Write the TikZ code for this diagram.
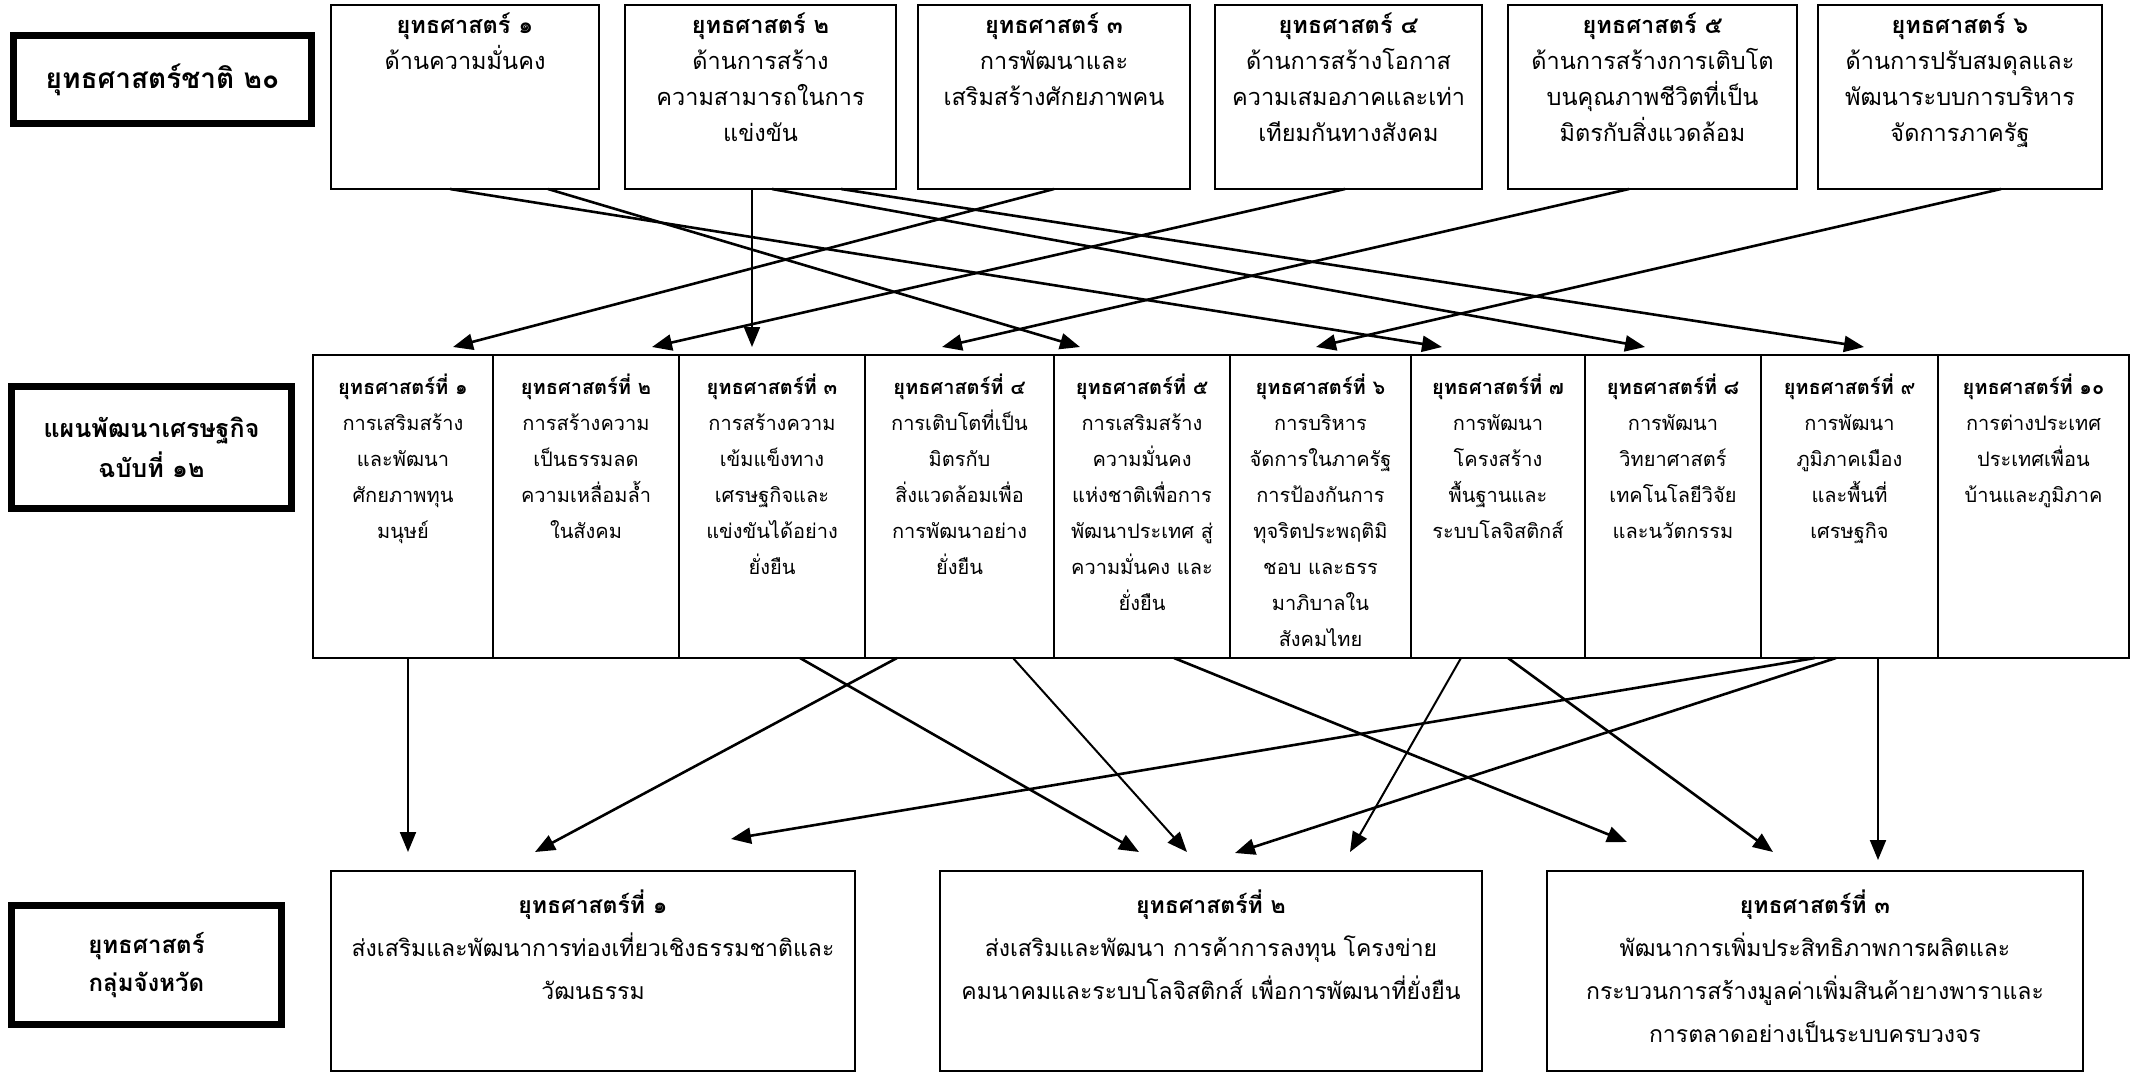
\documentclass[tikz,border=0pt]{standalone}
\usepackage{fontspec}
\usetikzlibrary{arrows.meta}
\newfontfamily\thai[Script=Thai]{Loma}
\newcommand{\ThTop}{\thai\fontsize{23.5}{36}\selectfont}
\newcommand{\ThMid}{\thai\fontsize{20}{36}\selectfont}
\newcommand{\ThBot}{\thai\fontsize{23}{43}\selectfont}
\newcommand{\ThLbl}{\thai\bfseries\fontsize{25}{40}\selectfont}
\begin{document}
\begin{tikzpicture}[x=1pt,y=-1pt,
  box/.style={draw=black, line width=2pt, inner sep=0pt, outer sep=0pt},
  lbl/.style={draw=black, line width=7pt, inner sep=0pt, outer sep=0pt, align=center, font=\ThLbl},
  ttxt/.style={font=\ThTop, align=center, inner sep=0pt, anchor=north},
  mtxt/.style={font=\ThMid, align=center, inner sep=0pt, anchor=north},
  btxt/.style={font=\ThBot, align=center, inner sep=0pt, anchor=north},
  arr/.style={line width=2.6pt, -{Triangle[length=20pt,width=16pt]}},
]
\useasboundingbox[fill=white] (0,0) rectangle (2136,1074);

% left labels
\node[lbl, minimum width=298pt, minimum height=88pt, font=\thai\bfseries\fontsize{28}{40}\selectfont] (la) at (162.5,79.5) {ยุทธศาสตร์ชาติ ๒๐};
\node[lbl, minimum width=280pt, minimum height=122pt] (lb) at (151.5,447.5) {แผนพัฒนาเศรษฐกิจ\\ฉบับที่ ๑๒};
\node[lbl, minimum width=270pt, minimum height=119pt, font=\thai\bfseries\fontsize{24}{38}\selectfont] (lc) at (146.5,965) {ยุทธศาสตร์\\กลุ่มจังหวัด};

% top boxes
\node[box, minimum width=268pt, minimum height=184pt] (t1) at (465,97) {};
\node[box, minimum width=271pt, minimum height=184pt] (t2) at (760.5,97) {};
\node[box, minimum width=272pt, minimum height=184pt] (t3) at (1054,97) {};
\node[box, minimum width=267pt, minimum height=184pt] (t4) at (1348.5,97) {};
\node[box, minimum width=289pt, minimum height=184pt] (t5) at (1652.5,97) {};
\node[box, minimum width=284pt, minimum height=184pt] (t6) at (1960,97) {};

\node[ttxt] (t1x) at ([yshift=-8pt]t1.north) {{\bfseries ยุทธศาสตร์ ๑}\\ด้านความมั่นคง};
\node[ttxt] (t2x) at ([yshift=-8pt]t2.north) {{\bfseries ยุทธศาสตร์ ๒}\\ด้านการสร้าง\\ความสามารถในการ\\แข่งขัน};
\node[ttxt] (t3x) at ([yshift=-8pt]t3.north) {{\bfseries ยุทธศาสตร์ ๓}\\การพัฒนาและ\\เสริมสร้างศักยภาพคน};
\node[ttxt] (t4x) at ([yshift=-8pt]t4.north) {{\bfseries ยุทธศาสตร์ ๔}\\ด้านการสร้างโอกาส\\ความเสมอภาคและเท่า\\เทียมกันทางสังคม};
\node[ttxt] (t5x) at ([yshift=-8pt]t5.north) {{\bfseries ยุทธศาสตร์ ๕}\\ด้านการสร้างการเติบโต\\บนคุณภาพชีวิตที่เป็น\\มิตรกับสิ่งแวดล้อม};
\node[ttxt] (t6x) at ([yshift=-8pt]t6.north) {{\bfseries ยุทธศาสตร์ ๖}\\ด้านการปรับสมดุลและ\\พัฒนาระบบการบริหาร\\จัดการภาครัฐ};

% middle columns
\node[box, minimum width=180pt, minimum height=303pt] (m1) at (403,506.5) {};
\node[box, minimum width=186pt, minimum height=303pt] (m2) at (586,506.5) {};
\node[box, minimum width=186pt, minimum height=303pt] (m3) at (772,506.5) {};
\node[box, minimum width=189pt, minimum height=303pt] (m4) at (959.5,506.5) {};
\node[box, minimum width=176pt, minimum height=303pt] (m5) at (1142,506.5) {};
\node[box, minimum width=181pt, minimum height=303pt] (m6) at (1320.5,506.5) {};
\node[box, minimum width=174pt, minimum height=303pt] (m7) at (1498,506.5) {};
\node[box, minimum width=176pt, minimum height=303pt] (m8) at (1673,506.5) {};
\node[box, minimum width=177pt, minimum height=303pt] (m9) at (1849.5,506.5) {};
\node[box, minimum width=191pt, minimum height=303pt] (m10) at (2033.5,506.5) {};

\node[mtxt] (m1x) at ([yshift=-19pt]m1.north) {{\bfseries ยุทธศาสตร์ที่ ๑}\\การเสริมสร้าง\\และพัฒนา\\ศักยภาพทุน\\มนุษย์};
\node[mtxt] (m2x) at ([yshift=-19pt]m2.north) {{\bfseries ยุทธศาสตร์ที่ ๒}\\การสร้างความ\\เป็นธรรมลด\\ความเหลื่อมล้ำ\\ในสังคม};
\node[mtxt] (m3x) at ([yshift=-19pt]m3.north) {{\bfseries ยุทธศาสตร์ที่ ๓}\\การสร้างความ\\เข้มแข็งทาง\\เศรษฐกิจและ\\แข่งขันได้อย่าง\\ยั่งยืน};
\node[mtxt] (m4x) at ([yshift=-19pt]m4.north) {{\bfseries ยุทธศาสตร์ที่ ๔}\\การเติบโตที่เป็น\\มิตรกับ\\สิ่งแวดล้อมเพื่อ\\การพัฒนาอย่าง\\ยั่งยืน};
\node[mtxt] (m5x) at ([yshift=-19pt]m5.north) {{\bfseries ยุทธศาสตร์ที่ ๕}\\การเสริมสร้าง\\ความมั่นคง\\แห่งชาติเพื่อการ\\พัฒนาประเทศ สู่\\ความมั่นคง และ\\ยั่งยืน};
\node[mtxt] (m6x) at ([yshift=-19pt]m6.north) {{\bfseries ยุทธศาสตร์ที่ ๖}\\การบริหาร\\จัดการในภาครัฐ\\การป้องกันการ\\ทุจริตประพฤติมิ\\ชอบ และธรร\\มาภิบาลใน\\สังคมไทย};
\node[mtxt] (m7x) at ([yshift=-19pt]m7.north) {{\bfseries ยุทธศาสตร์ที่ ๗}\\การพัฒนา\\โครงสร้าง\\พื้นฐานและ\\ระบบโลจิสติกส์};
\node[mtxt] (m8x) at ([yshift=-19pt]m8.north) {{\bfseries ยุทธศาสตร์ที่ ๘}\\การพัฒนา\\วิทยาศาสตร์\\เทคโนโลยีวิจัย\\และนวัตกรรม};
\node[mtxt] (m9x) at ([yshift=-19pt]m9.north) {{\bfseries ยุทธศาสตร์ที่ ๙}\\การพัฒนา\\ภูมิภาคเมือง\\และพื้นที่\\เศรษฐกิจ};
\node[mtxt] (m10x) at ([yshift=-19pt]m10.north) {{\bfseries ยุทธศาสตร์ที่ ๑๐}\\การต่างประเทศ\\ประเทศเพื่อน\\บ้านและภูมิภาค};

% bottom boxes
\node[box, minimum width=524pt, minimum height=200pt] (b1) at (593,971) {};
\node[box, minimum width=542pt, minimum height=200pt] (b2) at (1211,971) {};
\node[box, minimum width=536pt, minimum height=200pt, line width=2.6pt] (b3) at (1815,971) {};

\node[btxt] (b1x) at ([yshift=-19pt]b1.north) {{\bfseries ยุทธศาสตร์ที่ ๑}\\ส่งเสริมและพัฒนาการท่องเที่ยวเชิงธรรมชาติและ\\วัฒนธรรม};
\node[btxt] (b2x) at ([yshift=-19pt]b2.north) {{\bfseries ยุทธศาสตร์ที่ ๒}\\ส่งเสริมและพัฒนา การค้าการลงทุน โครงข่าย\\คมนาคมและระบบโลจิสติกส์ เพื่อการพัฒนาที่ยั่งยืน};
\node[btxt] (b3x) at ([yshift=-19pt]b3.north) {{\bfseries ยุทธศาสตร์ที่ ๓}\\พัฒนาการเพิ่มประสิทธิภาพการผลิตและ\\กระบวนการสร้างมูลค่าเพิ่มสินค้ายางพาราและ\\การตลาดอย่างเป็นระบบครบวงจร};

% top -> middle arrows
\draw[arr] ([xshift=119pt]t1.south west) -- ([xshift=31pt,yshift=8pt]m7.north west);
\draw[arr] ([xshift=217pt]t1.south west) -- ([xshift=26pt,yshift=8pt]m5.north west);
\draw[arr, line width=2pt] ([xshift=127pt]t2.south west) -- ([xshift=73pt,yshift=8pt]m3.north west);
\draw[arr] ([xshift=147pt]t2.south west) -- ([xshift=60pt,yshift=8pt]m8.north west);
\draw[arr] ([xshift=216pt]t2.south west) -- ([xshift=103pt,yshift=8pt]m9.north west);
\draw[arr] ([xshift=136pt]t3.south west) -- ([xshift=140pt,yshift=8pt]m1.north west);
\draw[arr] ([xshift=130pt]t4.south west) -- ([xshift=159pt,yshift=8pt]m2.north west);
\draw[arr] ([xshift=121pt]t5.south west) -- ([xshift=77pt,yshift=8pt]m4.north west);
\draw[arr] ([xshift=183pt]t6.south west) -- ([xshift=86pt,yshift=8pt]m6.north west);

% middle -> bottom arrows
\draw[arr, line width=2pt] ([xshift=95pt]m1.south west) -- ([xshift=77pt,yshift=19pt]b1.north west);
\draw[arr] ([xshift=32pt]m4.south west) -- ([xshift=204pt,yshift=19pt]b1.north west);
\draw[arr] ([xshift=54pt]m9.south west) -- ([xshift=400pt,yshift=32pt]b1.north west);
\draw[arr] ([xshift=121pt]m3.south west) -- ([xshift=199pt,yshift=19pt]b2.north west);
\draw[arr, line width=2pt] ([xshift=148pt]m4.south west) -- ([xshift=247pt,yshift=19pt]b2.north west);
\draw[arr] ([xshift=75pt]m9.south west) -- ([xshift=295pt,yshift=18pt]b2.north west);
\draw[arr, line width=2pt] ([xshift=50pt]m7.south west) -- ([xshift=410pt,yshift=19pt]b2.north west);
\draw[arr] ([xshift=120pt]m5.south west) -- ([xshift=80pt,yshift=29pt]b3.north west);
\draw[arr] ([xshift=97pt]m7.south west) -- ([xshift=226pt,yshift=19pt]b3.north west);
\draw[arr, line width=2pt] ([xshift=117pt]m9.south west) -- ([xshift=331pt,yshift=11pt]b3.north west);
\end{tikzpicture}
\end{document}
